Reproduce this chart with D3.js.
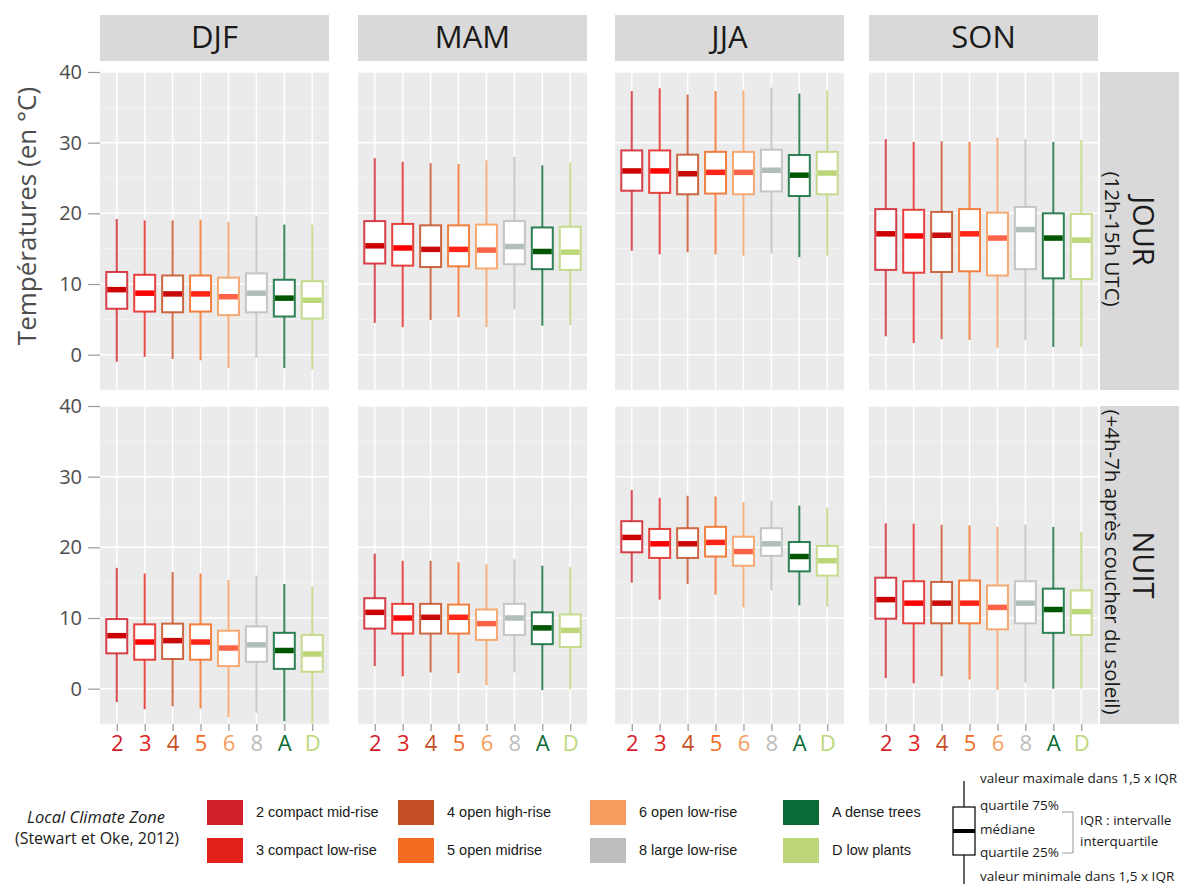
<!DOCTYPE html>
<html>
<head>
<meta charset="utf-8">
<script src="https://cdn.jsdelivr.net/npm/d3@7"></script>
<style>
  body { margin: 0; background: #fff; }
  svg { display: block; }
</style>
</head>
<body>
<svg id="chart" width="1179" height="884"></svg>
<script>
// categories
var zones = ["2", "3", "4", "5", "6", "8", "A", "D"];
var seasons = ["DJF", "MAM", "JJA", "SON"];
var periods = ["JOUR", "NUIT"];
var periodSub = ["(12h-15h UTC)", "(+4h-7h après coucher du soleil)"];
var zoneNames = ["2 compact mid-rise", "3 compact low-rise", "4 open high-rise", "5 open midrise",
  "6 open low-rise", "8 large low-rise", "A dense trees", "D low plants"];
var zoneColors = ["#d01f2b", "#e3211c", "#c44f24", "#f26b21", "#f69c5c", "#bdbdbd", "#0b6b38", "#bdd67a"];
var medianColors = ["#cc0000", "#ff0000", "#c80a0a", "#ff2418", "#ff6347", "#b2bfb8", "#005500", "#bdd67a"];
var yTicks = [0, 10, 20, 30, 40];

// [min, q1, median, q3, max] for each zone
var djfJour = [[-1.0, 6.5, 9.2, 11.7, 19.2], [-0.3, 6.1, 8.7, 11.3, 19.0], [-0.6, 6.0, 8.6, 11.2, 19.0], [-0.8, 6.1, 8.6, 11.2, 19.1],
  [-1.9, 5.6, 8.2, 10.9, 18.8], [-0.4, 6.0, 8.7, 11.5, 19.6], [-1.9, 5.4, 8.0, 10.6, 18.4], [-2.1, 5.1, 7.7, 10.4, 18.4]];
var mamJour = [[4.5, 12.9, 15.4, 18.9, 27.8], [3.9, 12.6, 15.1, 18.5, 27.3], [4.9, 12.4, 14.9, 18.3, 27.1], [5.3, 12.5, 14.9, 18.3, 27.0],
  [3.9, 12.2, 14.8, 18.4, 27.5], [6.4, 12.8, 15.3, 18.9, 28.0], [4.1, 12.1, 14.6, 18.0, 26.8], [4.2, 12.0, 14.5, 18.1, 27.2]];
var jjaJour = [[14.7, 23.2, 26.0, 28.9, 37.3], [14.2, 22.9, 26.0, 28.9, 37.7], [14.5, 22.7, 25.6, 28.3, 36.8], [14.2, 22.8, 25.8, 28.7, 37.3],
  [14.0, 22.7, 25.8, 28.7, 37.4], [14.3, 23.1, 26.1, 29.0, 37.8], [13.8, 22.45, 25.4, 28.25, 36.95], [14.0, 22.7, 25.7, 28.7, 37.4]];
var sonJour = [[2.6, 12.0, 17.1, 20.6, 30.5], [1.65, 11.6, 16.8, 20.5, 30.1], [2.2, 11.7, 16.9, 20.2, 30.2], [2.1, 11.8, 17.1, 20.6, 30.1],
  [1.0, 11.2, 16.5, 20.1, 30.7], [2.1, 12.1, 17.7, 20.9, 30.5], [1.1, 10.8, 16.5, 20.0, 30.1], [1.1, 10.7, 16.2, 19.9, 30.4]];
var djfNuit = [[-1.9, 5.0, 7.5, 9.85, 17.1], [-2.9, 4.1, 6.6, 9.1, 16.3], [-2.5, 4.2, 6.8, 9.2, 16.5], [-2.8, 4.1, 6.6, 9.1, 16.3],
  [-4.05, 3.2, 5.75, 8.2, 15.4], [-3.4, 3.8, 6.2, 8.8, 16.0], [-4.6, 2.8, 5.4, 7.9, 14.8], [-4.9, 2.4, 4.9, 7.6, 14.5]];
var mamNuit = [[3.2, 8.5, 10.8, 12.8, 19.1], [1.75, 7.8, 10.0, 12.0, 18.1], [2.3, 7.8, 10.1, 12.0, 18.1], [2.2, 7.8, 10.1, 11.9, 17.9],
  [0.5, 6.9, 9.2, 11.2, 17.6], [2.3, 7.6, 10.0, 12.0, 18.3], [-0.2, 6.3, 8.6, 10.8, 17.4], [-0.1, 5.9, 8.25, 10.5, 17.2]];
var jjaNuit = [[15.0, 19.3, 21.4, 23.7, 28.1], [12.6, 18.5, 20.5, 22.6, 27.0], [14.8, 18.5, 20.5, 22.7, 27.3], [13.3, 18.7, 20.7, 22.9, 27.2],
  [11.5, 17.4, 19.4, 21.5, 26.4], [13.9, 18.8, 20.5, 22.7, 26.6], [11.8, 16.6, 18.7, 20.75, 25.9], [11.6, 16.0, 18.1, 20.2, 25.6]];
var sonNuit = [[1.5, 9.9, 12.6, 15.7, 23.4], [0.75, 9.25, 12.1, 15.2, 23.35], [1.75, 9.25, 12.1, 15.1, 23.2], [1.3, 9.25, 12.1, 15.3, 23.1],
  [-0.2, 8.4, 11.5, 14.6, 22.9], [0.9, 9.25, 12.1, 15.2, 23.2], [0.0, 7.9, 11.2, 14.15, 22.9], [0.0, 7.6, 10.9, 13.9, 22.2]];

var panelData = [[djfJour, mamJour, jjaJour, sonJour], [djfNuit, mamNuit, jjaNuit, sonNuit]];

var svg = d3.select("#chart");
var fontMain = "'Open Sans', 'DejaVu Sans', sans-serif";
var panelX = [100, 358, 615, 869];
var panelY = [72, 406];
var panelW = 229, panelH = 318;

var x = d3.scalePoint().domain(zones).range([0, panelW]).padding(0.6);
var boxW = x.step() * 0.75;

// season strips
seasons.forEach(function (s, i) {
  svg.append("rect").attr("x", panelX[i]).attr("y", 15).attr("width", panelW).attr("height", 46).attr("fill", "#d9d9d9");
  svg.append("text").attr("x", panelX[i] + panelW / 2).attr("y", 48)
    .attr("text-anchor", "middle").attr("font-family", fontMain).attr("font-size", 31)
    .attr("fill", "#1a1a1a").text(s);
});

periods.forEach(function (p, r) {
  var y = d3.scaleLinear().domain([-5, 40]).range([panelY[r] + panelH, panelY[r]]);

  // period strip on the right
  svg.append("rect").attr("x", 1100).attr("y", panelY[r]).attr("width", 90).attr("height", panelH).attr("fill", "#d9d9d9");
  var cy = panelY[r] + panelH / 2;
  var st = svg.append("g").attr("transform", "translate(1140," + cy + ") rotate(90)");
  st.append("text").attr("text-anchor", "middle").attr("y", 7)
    .attr("font-family", fontMain).attr("font-size", 29).attr("fill", "#1a1a1a").text(p);
  st.append("text").attr("text-anchor", "middle").attr("y", 35).attr("x", r === 0 ? 8 : -3)
    .attr("font-family", fontMain).attr("font-size", 20.5).attr("fill", "#1a1a1a").text(periodSub[r]);

  // left axis
  var ax = svg.append("g").attr("transform", "translate(" + panelX[0] + ",0)")
    .call(d3.axisLeft(y).tickValues(yTicks).tickSize(12).tickPadding(6));
  ax.select(".domain").remove();
  ax.selectAll("line").attr("stroke", "#999").attr("stroke-width", 1.2);
  ax.selectAll("text").attr("font-family", fontMain).attr("font-size", 20).attr("fill", "#4d4d4d");

  seasons.forEach(function (s, c) {
    var g = svg.append("g").attr("transform", "translate(" + panelX[c] + ",0)");
    g.append("rect").attr("x", 0).attr("y", panelY[r]).attr("width", panelW).attr("height", panelH).attr("fill", "#ebebeb");

    // grid
    g.selectAll(".minor").data([-5, 5, 15, 25, 35]).enter().append("line")
      .attr("x1", 0).attr("x2", panelW).attr("y1", function (d) { return y(d); }).attr("y2", function (d) { return y(d); })
      .attr("stroke", "#f5f5f5").attr("stroke-width", 0.8);
    g.selectAll(".major").data(yTicks).enter().append("line")
      .attr("x1", 0).attr("x2", panelW).attr("y1", function (d) { return y(d); }).attr("y2", function (d) { return y(d); })
      .attr("stroke", "#fff").attr("stroke-width", 1.5);
    g.selectAll(".vgrid").data(zones).enter().append("line")
      .attr("x1", function (d) { return x(d); }).attr("x2", function (d) { return x(d); })
      .attr("y1", panelY[r]).attr("y2", panelY[r] + panelH)
      .attr("stroke", "#fff").attr("stroke-width", 1.5);

    // boxes
    var data = panelData[r][c];
    data.forEach(function (b, i) {
      var cx = x(zones[i]);
      var col = zoneColors[i];
      g.append("line").attr("x1", cx).attr("x2", cx).attr("y1", y(b[4])).attr("y2", y(b[3]))
        .attr("stroke", col).attr("stroke-opacity", 0.8).attr("stroke-width", 2);
      g.append("line").attr("x1", cx).attr("x2", cx).attr("y1", y(b[1])).attr("y2", y(b[0]))
        .attr("stroke", col).attr("stroke-opacity", 0.8).attr("stroke-width", 2);
      g.append("rect").attr("x", cx - boxW / 2).attr("y", y(b[3])).attr("width", boxW).attr("height", y(b[1]) - y(b[3]))
        .attr("fill", "#fff").attr("stroke", col).attr("stroke-opacity", 0.85).attr("stroke-width", 2);
      g.append("line").attr("x1", cx - boxW / 2 + 1).attr("x2", cx + boxW / 2 - 1).attr("y1", y(b[2])).attr("y2", y(b[2]))
        .attr("stroke", medianColors[i]).attr("stroke-width", 5.5);
    });

    // bottom axis
    if (r === 1) {
      var bx = g.append("g").attr("transform", "translate(0," + (panelY[r] + panelH) + ")")
        .call(d3.axisBottom(x).tickSize(7).tickPadding(4));
      bx.select(".domain").remove();
      bx.selectAll("line").attr("stroke", "#999").attr("stroke-width", 1.2);
      bx.selectAll("text").attr("font-family", fontMain).attr("font-size", 22)
        .attr("fill", function (d) { return zoneColors[zones.indexOf(d)]; });
    }
  });
});

// y title
svg.append("text").attr("transform", "translate(36,216) rotate(-90)").attr("text-anchor", "middle")
  .attr("font-family", fontMain).attr("font-size", 26).attr("fill", "#4d4d4d").text("Températures (en °C)");

// legend
svg.append("text").attr("x", 96).attr("y", 823).attr("text-anchor", "middle").attr("font-style", "italic")
  .attr("font-family", fontMain).attr("font-size", 16.5).attr("fill", "#1a1a1a").text("Local Climate Zone");
svg.append("text").attr("x", 97).attr("y", 844).attr("text-anchor", "middle")
  .attr("font-family", fontMain).attr("font-size", 16).attr("fill", "#1a1a1a").text("(Stewart et Oke, 2012)");

var legX = [207, 398, 590, 783];
var legY = [800, 838];
zoneNames.forEach(function (name, i) {
  var lx = legX[Math.floor(i / 2)], ly = legY[i % 2];
  svg.append("rect").attr("x", lx).attr("y", ly).attr("width", 36).attr("height", 25).attr("fill", zoneColors[i]);
  svg.append("text").attr("x", lx + 49).attr("y", ly + 17)
    .attr("font-family", "'Liberation Sans', Arial, sans-serif").attr("font-size", 14.5).attr("fill", "#1a1a1a").text(name);
});

// boxplot key
var kx = 964;
svg.append("line").attr("x1", kx).attr("x2", kx).attr("y1", 781).attr("y2", 884).attr("stroke", "#111").attr("stroke-width", 1.3);
svg.append("rect").attr("x", kx - 11).attr("y", 807).attr("width", 22).attr("height", 48)
  .attr("fill", "#fff").attr("stroke", "#111").attr("stroke-width", 1.3);
svg.append("line").attr("x1", kx - 11).attr("x2", kx + 11).attr("y1", 831).attr("y2", 831).attr("stroke", "#000").attr("stroke-width", 4);
var keyText = [["valeur maximale dans 1,5 x IQR", 783], ["quartile 75%", 810], ["médiane", 834],
  ["quartile 25%", 857], ["valeur minimale dans 1,5 x IQR", 881]];
keyText.forEach(function (t) {
  svg.append("text").attr("x", 980).attr("y", t[1]).attr("font-family", fontMain).attr("font-size", 13.5)
    .attr("fill", "#1a1a1a").text(t[0]);
});
svg.append("path").attr("d", "M1062,812 H1073 V853 H1062").attr("fill", "none").attr("stroke", "#999").attr("stroke-width", 1);
svg.append("text").attr("x", 1080).attr("y", 825).attr("font-family", fontMain).attr("font-size", 13.5).attr("fill", "#1a1a1a").text("IQR : intervalle");
svg.append("text").attr("x", 1080).attr("y", 846).attr("font-family", fontMain).attr("font-size", 13.5).attr("fill", "#1a1a1a").text("interquartile");
</script>
</body>
</html>
